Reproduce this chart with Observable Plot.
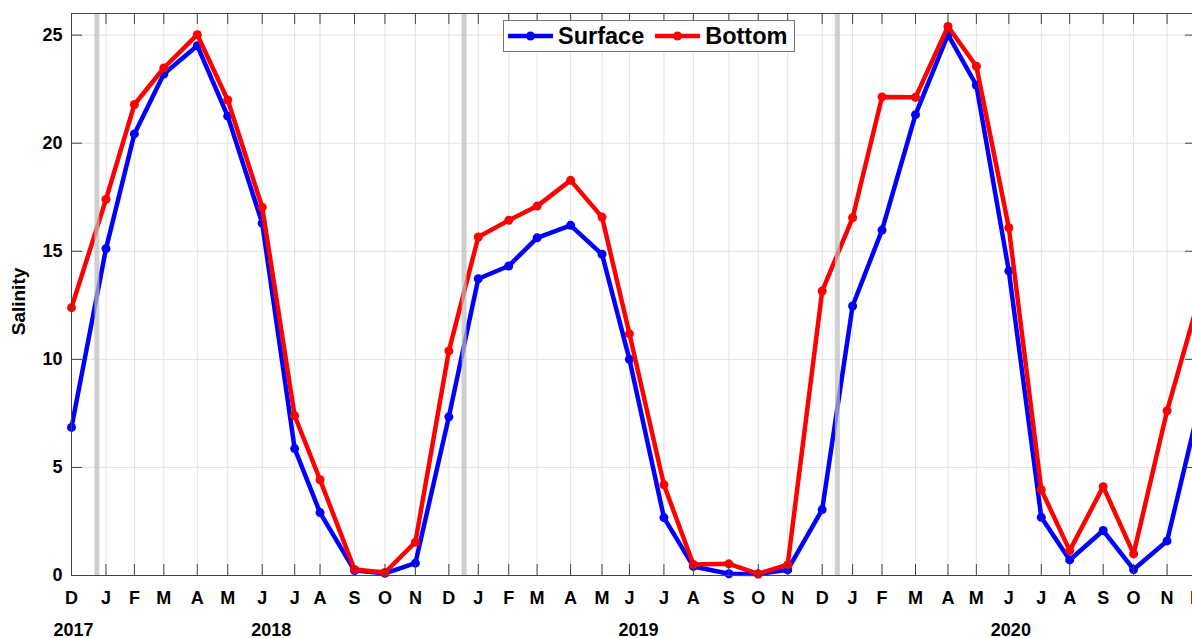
<!DOCTYPE html>
<html>
<head>
<meta charset="utf-8">
<script src="https://cdn.jsdelivr.net/npm/d3@7"></script>
<script src="https://cdn.jsdelivr.net/npm/@observablehq/plot@0.6"></script>
<style>
  html, body { margin: 0; padding: 0; background: #fff; overflow: hidden; }
  #wrap { position: relative; width: 1192px; height: 638px; overflow: hidden; }
  #chart svg { max-width: none !important; display: block; }
  #legend {
    position: absolute; left: 503px; top: 20px; width: 290px; height: 30px;
    border: 1px solid #777; background: #fff;
    font: bold 23.5px "Liberation Sans", Arial, sans-serif; color: #000;
    display: flex; align-items: center; box-sizing: content-box;
  }
  #legend .item { display: flex; align-items: center; }
  #legend svg { display: block; }
</style>
</head>
<body>
<div id="wrap"><div id="chart"></div><div id="legend"></div></div>
<script>
// ---- data ----
const sampleDates = [
  "2017-12-07",
  "2018-01-10","2018-02-07","2018-03-08","2018-04-10","2018-05-10","2018-06-13",
  "2018-07-15","2018-08-09","2018-09-12","2018-10-12","2018-11-11","2018-12-14",
  "2019-01-12","2019-02-11","2019-03-11","2019-04-13","2019-05-14","2019-06-10",
  "2019-07-14","2019-08-12","2019-09-16","2019-10-15","2019-11-13","2019-12-17",
  "2020-01-16","2020-02-14","2020-03-18","2020-04-19","2020-05-17","2020-06-18",
  "2020-07-20","2020-08-17","2020-09-19","2020-10-19","2020-11-21","2020-12-20"
];
const monthLabels = [
  "D",
  "J","F","M","A","M","J","J","A","S","O","N","D",
  "J","F","M","A","M","J","J","A","S","O","N","D",
  "J","F","M","A","M","J","J","A","S","O","N","D"
];
const surface = [
  6.85,
  15.12, 20.43, 23.2, 24.51, 21.25, 16.3, 5.87, 2.91, 0.23, 0.1, 0.57, 7.34,
  13.73, 14.32, 15.62, 16.2, 14.86, 10.0, 2.68, 0.42, 0.08, 0.07, 0.26, 3.05,
  12.47, 15.98, 21.32, 25.02, 22.68, 14.09, 2.69, 0.72, 2.08, 0.28, 1.6, 7.3
];
const bottom = [
  12.39,
  17.4, 21.79, 23.48, 25.02, 22.0, 17.04, 7.39, 4.43, 0.28, 0.14, 1.54, 10.39,
  15.66, 16.43, 17.09, 18.28, 16.58, 11.18, 4.2, 0.51, 0.54, 0.08, 0.5, 13.16,
  16.55, 22.14, 22.12, 25.4, 23.56, 16.09, 3.97, 1.15, 4.11, 1.0, 7.62, 12.4
];
const yearBreaks = ["2018-01-01", "2018-12-29", "2020-01-01"];
const yearLabels = ["2017", "2018", "2019", "2020"];
const yearLabelDates = ["2017-12-09", "2018-06-22", "2019-06-19", "2020-06-20"];
const yTicks = [0, 5, 10, 15, 20, 25];
const seriesNames = ["Surface", "Bottom"];
const seriesColors = ["#0000ff", "#ff0000"];

// ---- derived tables ----
const dates = sampleDates.map(s => new Date(s));
const rows = dates.map((d, i) => ({date: d, surface: surface[i], bottom: bottom[i], label: monthLabels[i]}));
const breaks = yearBreaks.map(s => new Date(s));
const years = yearLabels.map((t, i) => ({date: new Date(yearLabelDates[i]), text: t}));

const FONT = '"Liberation Sans", Arial, Helvetica, sans-serif';
const W = 1197, H = 638, ML = 71, MR = 1, MT = 13, MB = 63;
const innerW = W - ML - MR, innerH = H - MT - MB;
const TICK = 11;

const chart = Plot.plot({
  width: W, height: H,
  marginLeft: ML, marginRight: MR, marginTop: MT, marginBottom: MB,
  style: {fontFamily: FONT, background: "#fff", overflow: "visible"},
  x: {type: "utc", domain: [dates[0], dates[dates.length - 1]], axis: null},
  y: {domain: [0, 26], axis: null},
  marks: [
    // grid
    Plot.ruleX(dates, {x: d => d, stroke: "#e2e2e2", strokeWidth: 1}),
    Plot.ruleY(yTicks.filter(v => v > 0), {y: d => d, stroke: "#e2e2e2", strokeWidth: 1}),
    // data
    Plot.line(rows, {x: "date", y: "surface", stroke: seriesColors[0], strokeWidth: 4.5, strokeLinejoin: "round"}),
    Plot.dot(rows, {x: "date", y: "surface", fill: seriesColors[0], r: 4.5}),
    Plot.line(rows, {x: "date", y: "bottom", stroke: seriesColors[1], strokeWidth: 4.5, strokeLinejoin: "round"}),
    Plot.dot(rows, {x: "date", y: "bottom", fill: seriesColors[1], r: 4.5}),
    // year separators (semi-transparent, drawn on top)
    Plot.ruleX(breaks, {x: d => d, stroke: "#bdbdbd", strokeOpacity: 0.72, strokeWidth: 5}),
    // frame
    Plot.frame({stroke: "#444", strokeWidth: 1}),
    // inward ticks
    Plot.ruleX(dates, {x: d => d, insetTop: innerH - TICK, stroke: "#444"}),
    Plot.ruleX(dates, {x: d => d, insetBottom: innerH - TICK, stroke: "#444"}),
    Plot.ruleY(yTicks, {y: d => d, insetRight: innerW - TICK, stroke: "#444"}),
    Plot.ruleY(yTicks, {y: d => d, insetLeft: innerW - TICK, stroke: "#444"}),
    // tick labels
    Plot.text(rows, {x: "date", text: "label", frameAnchor: "bottom", lineAnchor: "middle", dy: 23, fontSize: 18, fontWeight: "bold", fill: "#000", clip: false}),
    Plot.text(years, {x: "date", text: "text", frameAnchor: "bottom", lineAnchor: "middle", dy: 54.5, fontSize: 18, fontWeight: "bold", fill: "#000"}),
    Plot.text(yTicks, {y: d => d, text: d => String(d), frameAnchor: "left", dx: -9, textAnchor: "end", fontSize: 18, fontWeight: "bold", fill: "#000"}),
    Plot.text(["Salinity"], {text: d => d, frameAnchor: "left", textAnchor: "middle", lineAnchor: "middle", dx: -53, dy: 7, rotate: -90, fontSize: 19, fontWeight: "bold", fill: "#000"})
  ]
});
document.getElementById("chart").appendChild(chart);

// ---- legend (HTML overlay) ----
const legend = document.getElementById("legend");
seriesNames.forEach((name, i) => {
  const item = document.createElement("div");
  item.className = "item";
  item.style.marginLeft = i === 0 ? "4px" : "11px";
  const ns = "http://www.w3.org/2000/svg";
  const svg = document.createElementNS(ns, "svg");
  svg.setAttribute("width", "45"); svg.setAttribute("height", "12");
  const ln = document.createElementNS(ns, "line");
  ln.setAttribute("x1", "0"); ln.setAttribute("x2", "45");
  ln.setAttribute("y1", "6"); ln.setAttribute("y2", "6");
  ln.setAttribute("stroke", seriesColors[i]); ln.setAttribute("stroke-width", "4.5");
  const c = document.createElementNS(ns, "circle");
  c.setAttribute("cx", "22.5"); c.setAttribute("cy", "6"); c.setAttribute("r", "4.5");
  c.setAttribute("fill", seriesColors[i]);
  svg.appendChild(ln); svg.appendChild(c);
  const span = document.createElement("span");
  span.textContent = name;
  span.style.marginLeft = "5px";
  item.appendChild(svg); item.appendChild(span);
  legend.appendChild(item);
});
</script>
</body>
</html>
